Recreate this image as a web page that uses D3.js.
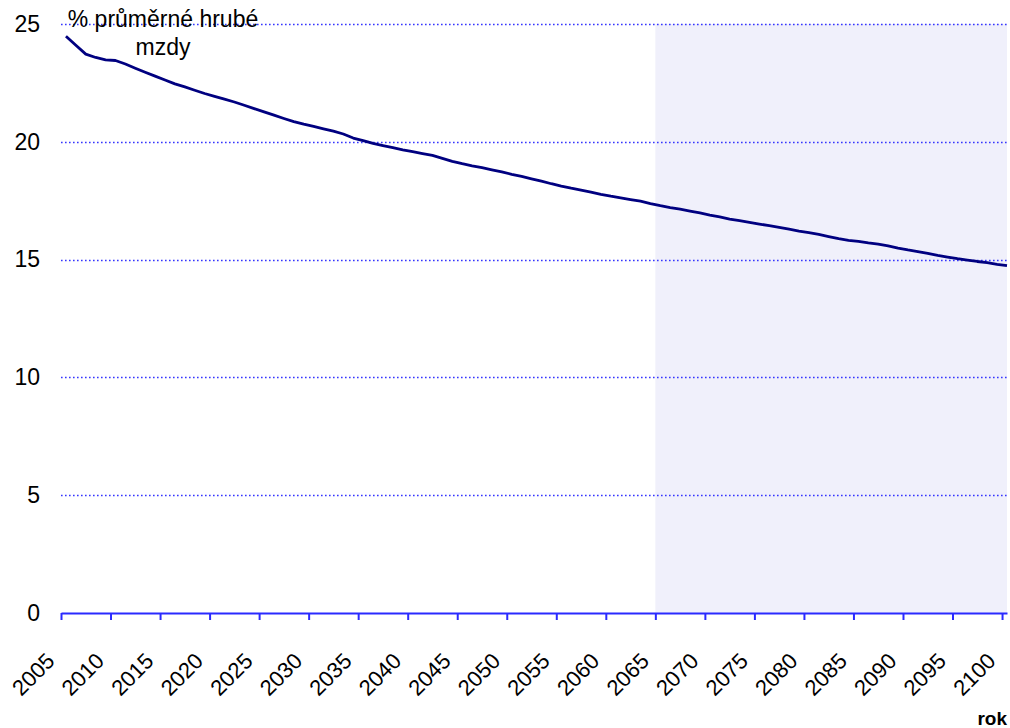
<!DOCTYPE html>
<html lang="cs">
<head>
<meta charset="utf-8">
<script src="https://d3js.org/d3.v7.min.js"></script>
<style>
body { margin: 0; background: #fff; font-family: "Liberation Sans", Arial, sans-serif; }
.tick text { fill: #000; }
</style>
</head>
<body>
<div id="chart"></div>
<script>
var width = 1010, height = 728;

// data
var years = d3.range(2005, 2101);
var values = [
  24.48, 24.10, 23.72, 23.58, 23.48, 23.45, 23.30, 23.12, 22.95, 22.79,
  22.62, 22.46, 22.33, 22.19, 22.05, 21.93, 21.81, 21.69, 21.55, 21.41,
  21.27, 21.13, 20.99, 20.86, 20.75, 20.65, 20.55, 20.45, 20.33, 20.16,
  20.05, 19.93, 19.84, 19.75, 19.66, 19.58, 19.50, 19.42, 19.30, 19.17,
  19.07, 18.98, 18.90, 18.81, 18.72, 18.62, 18.53, 18.43, 18.33, 18.22,
  18.12, 18.03, 17.95, 17.86, 17.77, 17.69, 17.62, 17.55, 17.48, 17.38,
  17.29, 17.21, 17.14, 17.06, 16.98, 16.89, 16.81, 16.72, 16.65, 16.58,
  16.51, 16.44, 16.37, 16.29, 16.21, 16.14, 16.07, 15.98, 15.89, 15.82,
  15.77, 15.71, 15.66, 15.58, 15.49, 15.41, 15.34, 15.26, 15.18, 15.11,
  15.04, 14.98, 14.92, 14.87, 14.80, 14.74
];
var xTicks = d3.range(2005, 2101, 5);
var yTicks = [0, 5, 10, 15, 20, 25];
var shadeFrom = 2065;
var titleLines = ["% průměrné hrubé", "mzdy"];
var xLabel = "rok";

var svg = d3.select("#chart").append("svg")
  .attr("width", width)
  .attr("height", height);

var x = d3.scaleLinear().domain([2005, 2100.5]).range([61, 1007]);
var y = d3.scaleLinear().domain([0, 25]).range([613, 24]);

// projected part of the chart
svg.append("rect")
  .attr("x", x(shadeFrom))
  .attr("y", y(25))
  .attr("width", x.range()[1] - x(shadeFrom))
  .attr("height", y(0) - y(25))
  .style("fill", "#f0f0fb");

// dotted gridlines
svg.append("g").selectAll("line")
  .data(yTicks.filter(function(d) { return d > 0; }))
  .enter().append("line")
  .attr("x1", x.range()[0])
  .attr("x2", x.range()[1])
  .attr("y1", function(d) { return Math.round(y(d)) + 0.5; })
  .attr("y2", function(d) { return Math.round(y(d)) + 0.5; })
  .style("stroke", "#3535ff")
  .style("stroke-width", 1.3)
  .style("stroke-dasharray", "1.6,2.4");

// y labels
var yAxis = svg.append("g")
  .attr("transform", "translate(61,0)")
  .call(d3.axisLeft(y).tickValues(yTicks).tickSize(0).tickPadding(21));
yAxis.select(".domain").remove();
yAxis.selectAll("text")
  .style("font-size", "23px")
  .style("font-family", "Liberation Sans, Arial, sans-serif");

// x axis
var xAxis = svg.append("g")
  .attr("transform", "translate(0," + y(0) + ")")
  .call(d3.axisBottom(x).tickValues(xTicks).tickFormat(d3.format("d")).tickSize(7).tickSizeOuter(0));
xAxis.select(".domain").style("stroke", "#2a2aff").style("stroke-width", 2);
xAxis.selectAll(".tick line").style("stroke", "#2a2aff").style("stroke-width", 2);
xAxis.selectAll("text")
  .style("font-size", "22px")
  .style("font-family", "Liberation Sans, Arial, sans-serif")
  .attr("text-anchor", "end")
  .attr("y", 0)
  .attr("dy", "0.35em")
  .attr("transform", "translate(-11,44) rotate(-45)");

// the series
var line = d3.line()
  .x(function(d, i) { return x(years[i] + 0.5); })
  .y(function(d) { return y(d); });

svg.append("path")
  .datum(values)
  .attr("d", line)
  .style("fill", "none")
  .style("stroke", "#000080")
  .style("stroke-width", 2.8)
  .style("stroke-linejoin", "round");

// unit label
svg.append("g").selectAll("text")
  .data(titleLines)
  .enter().append("text")
  .attr("x", 163)
  .attr("y", function(d, i) { return 27 + i * 28; })
  .attr("text-anchor", "middle")
  .style("font-size", "23px")
  .text(function(d) { return d; });

svg.append("text")
  .attr("x", 1007)
  .attr("y", 725)
  .attr("text-anchor", "end")
  .style("font-size", "19px")
  .style("font-weight", "bold")
  .text(xLabel);
</script>
</body>
</html>
